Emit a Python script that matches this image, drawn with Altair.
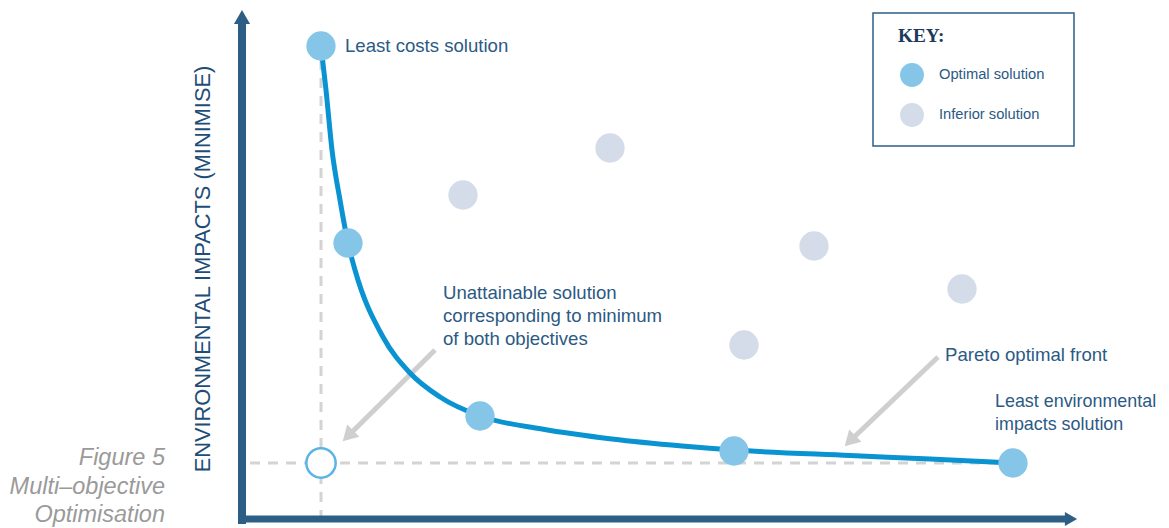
import altair as alt
import pandas as pd

# Units: cost / impact measured from the axis origin
optimal_cost = [79, 106, 238, 492, 771]
optimal_impact = [474, 277, 104, 69, 57]

inferior_cost = [221, 368, 572, 720, 502]
inferior_impact = [325, 372, 274, 231, 175]

front_cost = [79, 84, 90, 98, 106, 113, 141, 168, 198, 238, 300, 370, 440, 492, 608, 688, 771]
front_impact = [474, 430, 370, 320, 277, 250, 183, 147, 123, 104, 91, 81, 74, 70, 64.5, 61, 57]

ideal_cost = [79]
ideal_impact = [57]

label_text = ["Least costs solution", "Unattainable solution", "corresponding to minimum",
              "of both objectives", "Pareto optimal front"]
label_cost = [103, 201, 201, 201, 703]
label_impact = [474, 227, 204, 181, 165]

edge_text = ["Least environmental", "impacts solution"]
edge_cost = [753, 753]
edge_impact = [118, 95]

caption_text = ["Figure 5", "Multi\u2013objective", "Optimisation"]
caption_cost = [-77, -77, -77]
caption_impact = [62, 33, 5]

ytitle_text = ["ENVIRONMENTAL IMPACTS (MINIMISE)"]
ytitle_cost = [-39]
ytitle_impact = [251]

key_title = ["KEY:"]
key_labels = ["Optimal solution", "Inferior solution"]
key_colors = ["#85C6E8", "#D3DCE8"]
key_cost = [670, 670]
key_impact = [445, 405]
key_label_cost = [697, 697]
key_box = {"c1": 631, "c2": 832, "i1": 374, "i2": 507}

# arrows (start -> end)
arrow_c1 = [193, 696]
arrow_i1 = [170, 163]
arrow_c2 = [106, 608]
arrow_i2 = [84, 79]

TEXT = "#2B5A84"
AXIS = "#2D5F86"
FONT = "Liberation Sans"

W, H = 1153, 520
xs = alt.Scale(domain=[-234, 919], nice=False, zero=False)
ys = alt.Scale(domain=[-8, 512], nice=False, zero=False)


def X(f="c"):
    return alt.X(f"{f}:Q", scale=xs, axis=None)


def Y(f="i"):
    return alt.Y(f"{f}:Q", scale=ys, axis=None)


base = alt.Chart(pd.DataFrame({"c": [0], "i": [0]}))

# dashed guide lines
vdash = base.mark_rule(color="#D3D3D3", strokeWidth=3, strokeDash=[10, 8]).encode(
    x=alt.X("c:Q", scale=xs, axis=None), y=Y("i"), y2="i2:Q"
).transform_calculate(c=str(ideal_cost[0]), i="0", i2="460")
hdash = base.mark_rule(color="#D3D3D3", strokeWidth=3, strokeDash=[10, 8]).encode(
    x=X("c"), x2="c2:Q", y=Y("i")
).transform_calculate(c="8", c2="760", i=str(ideal_impact[0]))

front = alt.Chart(pd.DataFrame({"c": front_cost, "i": front_impact})).mark_line(
    color="#0A93D1", strokeWidth=5, interpolate="monotone"
).encode(x=X(), y=Y(), order="c:Q")

arrows_df = pd.DataFrame({"c": arrow_c1, "i": arrow_i1, "c2": arrow_c2, "i2": arrow_i2})
arrow_lines = alt.Chart(arrows_df).mark_rule(color="#CFCFCF", strokeWidth=5).encode(
    x=X(), y=Y(), x2="c2:Q", y2="i2:Q"
)
arrow_heads = alt.Chart(arrows_df).mark_point(
    shape="triangle-up", filled=True, color="#CFCFCF", size=300, angle=225, opacity=1
).encode(x=X("c2"), y=Y("i2"))

opt = alt.Chart(pd.DataFrame({"c": optimal_cost, "i": optimal_impact})).mark_circle(
    color="#85C6E8", size=860, opacity=1
).encode(x=X(), y=Y())
inf = alt.Chart(pd.DataFrame({"c": inferior_cost, "i": inferior_impact})).mark_circle(
    color="#D3DCE8", size=860, opacity=1
).encode(x=X(), y=Y())
ideal = alt.Chart(pd.DataFrame({"c": ideal_cost, "i": ideal_impact})).mark_circle(
    fill="white", stroke="#5AB4E5", strokeWidth=2.5, size=860, opacity=1
).encode(x=X(), y=Y())

labels = alt.Chart(pd.DataFrame({"c": label_cost, "i": label_impact, "t": label_text})).mark_text(
    align="left", baseline="middle", font=FONT, fontSize=18.6, color=TEXT
).encode(x=X(), y=Y(), text="t:N")

edge_labels = alt.Chart(pd.DataFrame({"c": edge_cost, "i": edge_impact, "t": edge_text})).mark_text(
    align="left", baseline="middle", font=FONT, fontSize=17.9, color=TEXT
).encode(x=X(), y=Y(), text="t:N")

caption = alt.Chart(pd.DataFrame({"c": caption_cost, "i": caption_impact, "t": caption_text})).mark_text(
    align="right", baseline="middle", font=FONT, fontSize=23.5, fontStyle="italic", color="#9A9A9A"
).encode(x=X(), y=Y(), text="t:N")

ytitle = alt.Chart(pd.DataFrame({"c": ytitle_cost, "i": ytitle_impact, "t": ytitle_text})).mark_text(
    align="center", baseline="middle", font=FONT, fontSize=21.8, angle=270, color="#1E4D78"
).encode(x=X(), y=Y(), text="t:N")

# key
kb = pd.DataFrame({"c": [key_box["c1"]], "c2": [key_box["c2"]], "i": [key_box["i1"]], "i2": [key_box["i2"]]})
key_rect = alt.Chart(kb).mark_rect(fill="white", stroke=AXIS, strokeWidth=1.5).encode(
    x=X(), x2="c2:Q", y=Y(), y2="i2:Q"
)
key_t = alt.Chart(pd.DataFrame({"c": [656], "i": [484], "t": key_title})).mark_text(
    align="left", baseline="middle", font="Liberation Serif", fontWeight="bold", fontSize=19.3, color="#1B3A5C"
).encode(x=X(), y=Y(), text="t:N")
key_dots = alt.Chart(pd.DataFrame({"c": key_cost, "i": key_impact, "col": key_colors})).mark_circle(
    size=570, opacity=1
).encode(x=X(), y=Y(), color=alt.Color("col:N", scale=None))
key_lab = alt.Chart(pd.DataFrame({"c": key_label_cost, "i": key_impact, "t": key_labels})).mark_text(
    align="left", baseline="middle", font=FONT, fontSize=14.7, color=TEXT
).encode(x=X(), y=Y(), text="t:N")

# axes with arrowheads
vaxis = base.mark_rule(color=AXIS, strokeWidth=8).encode(
    x=X("c"), y=Y("i"), y2="i2:Q"
).transform_calculate(c="0", i="-4", i2="497")
haxis = base.mark_rule(color=AXIS, strokeWidth=7).encode(
    x=X("c"), x2="c2:Q", y=Y("i")
).transform_calculate(c="-4", c2="824", i="1")
vhead = base.mark_point(shape="triangle-up", filled=True, color=AXIS, size=260, opacity=1).encode(
    x=X("c"), y=Y("i")
).transform_calculate(c="0", i="503")
hhead = base.mark_point(shape="triangle-right", filled=True, color=AXIS, size=200, opacity=1).encode(
    x=X("c"), y=Y("i")
).transform_calculate(c="829", i="1")

chart = alt.layer(
    vdash, hdash, arrow_lines, arrow_heads, front, opt, inf, ideal, labels, edge_labels, caption, ytitle,
    key_rect, key_t, key_dots, key_lab, vaxis, haxis, vhead, hhead
).properties(
    width=W, height=H, padding=0, autosize=alt.AutoSizeParams(type="none")
).configure_view(stroke=None)

chart.save("out.html", embed_options={"renderer": "svg", "actions": False})
